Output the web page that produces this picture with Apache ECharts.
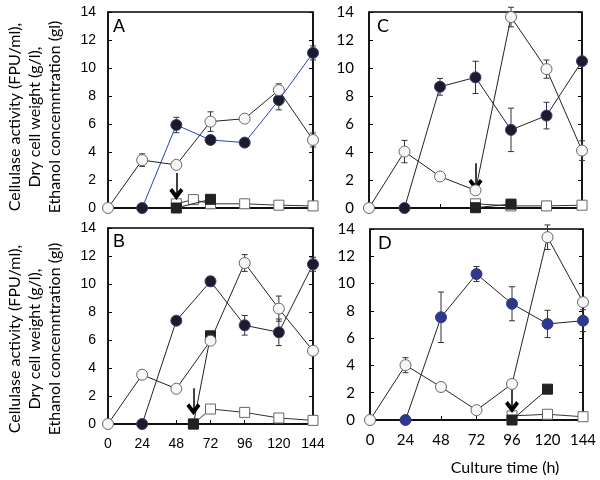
<!DOCTYPE html>
<html><head><meta charset="utf-8">
<script src="https://cdn.jsdelivr.net/npm/echarts@6/dist/echarts.min.js"></script>
<style>html,body{margin:0;padding:0;background:#fff}#c{width:600px;height:480px}</style>
</head><body><div id="c"></div>
<script>
const hours = [0, 24, 48, 72, 96, 120, 144];
const yTicks = [0, 2, 4, 6, 8, 10, 12, 14];
const panelLabels = ['A', 'B', 'C', 'D'];

// Panel A
const A_open = [0, 3.42, 3.08, 6.17, 6.38, 8.42, 4.86];
const A_openErr = [null, 0.45, null, 0.7, null, 0.45, 0.5];
const A_filled = [null, 0, 5.93, 4.86, 4.67, 7.71, 11.08];
const A_filledErr = [null, null, 0.55, null, null, 0.7, 0.5];
const A_sqOpenT = [48, 60, 72, 96, 120, 144];
const A_sqOpen = [0.3, 0.6, 0.3, 0.3, 0.2, 0.15];
const A_sqFilledT = [48, 72];
const A_sqFilled = [0, 0.62];
const A_arrow = [48, 2.5, 1.0];

// Panel B
const B_open = [0, 3.52, 2.52, 5.95, 11.5, 8.24, 5.23];
const B_openErr = [null, null, null, 0.2, 0.6, 0.9, null];
const B_filled = [null, 0, 7.38, 10.19, 7.05, 6.55, 11.41];
const B_filledErr = [null, null, null, 0.35, 0.7, 0.95, 0.5];
const B_sqOpenT = [60, 72, 96, 120, 144];
const B_sqOpen = [0, 1.07, 0.83, 0.43, 0.26];
const B_sqFilledT = [60, 72];
const B_sqFilled = [0, 6.3];
const B_arrow = [60, 2.55, 1.05];

// Panel C
const C_open = [0, 4.03, 2.25, 1.26, 13.64, 9.92, 4.1];
const C_openErr = [null, 0.8, null, null, 0.7, 0.65, 0.7];
const C_filled = [null, 0, 8.66, 9.33, 5.58, 6.6, 10.49];
const C_filledErr = [null, null, 0.6, 1.15, 1.55, 0.95, null];
const C_sqOpenT = [72, 96, 120, 144];
const C_sqOpen = [0.3, 0.15, 0.15, 0.2];
const C_sqFilledT = [72, 96];
const C_sqFilled = [0.02, 0.28];
const C_arrow = [72, 3.2, 1.65];

// Panel D
const D_open = [0, 4.02, 2.42, 0.72, 2.64, 13.4, 8.64];
const D_openErr = [null, 0.55, null, null, null, 0.9, null];
const D_filled = [null, 0, 7.53, 10.7, 8.52, 7.04, 7.28];
const D_filledErr = [null, null, 1.85, 0.55, 1.25, 1.0, 0.8];
const D_sqOpenT = [96, 120, 144];
const D_sqOpen = [0.3, 0.42, 0.24];
const D_sqFilledT = [96, 120];
const D_sqFilled = [0, 2.26];
const D_arrow = [96, 2.7, 0.95];

const panels = [
  {open: A_open, openErr: A_openErr, filled: A_filled, filledErr: A_filledErr, sqOT: A_sqOpenT, sqO: A_sqOpen, sqFT: A_sqFilledT, sqF: A_sqFilled, arrow: A_arrow,
   grid: {left: 108, top: 12, width: 205, height: 196}, font: 'Liberation Sans', fs: 14, showX: false, fillColor: '#1b1b2b', filledLine: '#2244bb'},
  {open: B_open, openErr: B_openErr, filled: B_filled, filledErr: B_filledErr, sqOT: B_sqOpenT, sqO: B_sqOpen, sqFT: B_sqFilledT, sqF: B_sqFilled, arrow: B_arrow,
   grid: {left: 108, top: 228, width: 205, height: 196}, font: 'Liberation Sans', fs: 14, showX: true, fillColor: '#1b1b2b', filledLine: '#222'},
  {open: C_open, openErr: C_openErr, filled: C_filled, filledErr: C_filledErr, sqOT: C_sqOpenT, sqO: C_sqOpen, sqFT: C_sqFilledT, sqF: C_sqFilled, arrow: C_arrow,
   grid: {left: 369, top: 12, width: 213, height: 196}, font: 'Lato', fs: 15, showX: false, fillColor: '#1b1b2b', filledLine: '#222'},
  {open: D_open, openErr: D_openErr, filled: D_filled, filledErr: D_filledErr, sqOT: D_sqOpenT, sqO: D_sqOpen, sqFT: D_sqFilledT, sqF: D_sqFilled, arrow: D_arrow,
   grid: {left: 370, top: 229, width: 213, height: 191}, font: 'Lato', fs: 15, showX: true, fillColor: '#2e3892', filledLine: '#222'}
];

const grids = [], xAxes = [], yAxes = [], series = [], graphics = [];

function pairs(ts, vs) { const r = []; for (let i = 0; i < ts.length; i++) if (vs[i] !== null) r.push([ts[i], vs[i]]); return r; }
function errs(vs, es) { const r = []; for (let i = 0; i < hours.length; i++) if (es[i] !== null && vs[i] !== null) r.push([hours[i], vs[i] - es[i], vs[i] + es[i]]); return r; }

const errRender = function (params, api) {
  const x = api.value(0);
  const p1 = api.coord([x, api.value(1)]);
  const p2 = api.coord([x, api.value(2)]);
  const st = {stroke: '#333', lineWidth: 1};
  return {type: 'group', children: [
    {type: 'line', shape: {x1: p1[0], y1: p1[1], x2: p2[0], y2: p2[1]}, style: st},
    {type: 'line', shape: {x1: p1[0] - 3, y1: p1[1], x2: p1[0] + 3, y2: p1[1]}, style: st},
    {type: 'line', shape: {x1: p2[0] - 3, y1: p2[1], x2: p2[0] + 3, y2: p2[1]}, style: st}
  ]};
};

panels.forEach((p, i) => {
  grids.push(Object.assign({show: true, borderColor: '#000', borderWidth: 1.3}, p.grid));
  xAxes.push({type: 'value', gridIndex: i, min: 0, max: 144, interval: 24,
    axisLine: {onZero: false, lineStyle: {color: '#000', width: 1.5}},
    axisTick: {inside: true, length: 4, lineStyle: {color: '#000'}},
    axisLabel: {show: p.showX, color: '#000', fontSize: p.fs, fontFamily: p.font, margin: 13, showMinLabel: true, showMaxLabel: true},
    splitLine: {show: false}});
  yAxes.push({type: 'value', gridIndex: i, min: 0, max: 14, interval: 2,
    axisLine: {show: true, lineStyle: {color: '#000', width: 1.5}},
    axisTick: {show: true, inside: true, length: 4, lineStyle: {color: '#000'}},
    axisLabel: {color: '#000', fontSize: p.fs, fontFamily: p.font, margin: i < 2 ? 12 : 15,
      formatter: v => yTicks.indexOf(v) >= 0 ? String(v) : ''},
    splitLine: {show: false}});
  yAxes.push({type: 'value', gridIndex: i, position: 'right', min: 0, max: 14, interval: 2,
    axisLine: {show: true, lineStyle: {color: '#000', width: 1.5}},
    axisTick: {show: true, inside: true, length: 4, lineStyle: {color: '#000'}},
    axisLabel: {show: false}, splitLine: {show: false}});
  const xi = i, yi = 2 * i;
  const base = {xAxisIndex: xi, yAxisIndex: yi, clip: false, animation: false};
  series.push(Object.assign({type: 'line', data: pairs(p.sqOT, p.sqO), symbol: 'rect', symbolSize: 10,
    lineStyle: {color: '#333', width: 1}, itemStyle: {color: '#fff', borderColor: '#666', borderWidth: 1}, z: 3}, base));
  series.push(Object.assign({type: 'line', data: pairs(p.sqFT, p.sqF), symbol: 'rect', symbolSize: 10,
    lineStyle: {color: '#222', width: 1}, itemStyle: {color: '#222', borderColor: '#222', borderWidth: 1}, z: 4}, base));
  series.push(Object.assign({type: 'custom', renderItem: errRender, data: errs(p.filled, p.filledErr), z: 2}, base));
  series.push(Object.assign({type: 'custom', renderItem: errRender, data: errs(p.open, p.openErr), z: 2}, base));
  series.push(Object.assign({type: 'line', data: pairs(hours, p.filled), symbol: 'circle', symbolSize: 11,
    lineStyle: {color: p.filledLine, width: 1}, itemStyle: {color: p.fillColor, borderColor: '#3a3a70', borderWidth: 1}, z: 5}, base));
  series.push(Object.assign({type: 'line', data: pairs(hours, p.open), symbol: 'circle', symbolSize: 11,
    lineStyle: {color: '#222', width: 1}, itemStyle: {color: '#f7f7f7', borderColor: '#666', borderWidth: 1}, z: 6,
    markLine: {silent: true, animation: false, symbol: ['none', 'path://M5,0 L10,7 L8,9 L5,5 L2,9 L0,7 Z'], symbolSize: [14, 12],
      lineStyle: {color: '#000', width: 1.5, type: 'solid'}, label: {show: false},
      data: [[{coord: [p.arrow[0], p.arrow[1]]}, {coord: [p.arrow[0], p.arrow[2]]}]]}}, base));
});

graphics.push({type: 'text', left: 113, top: 18, style: {text: 'A', font: '18px "Liberation Sans"', fill: '#000'}});
graphics.push({type: 'text', left: 113, top: 233, style: {text: 'B', font: '18px "Liberation Sans"', fill: '#000'}});
graphics.push({type: 'text', left: 377, top: 17, style: {text: 'C', font: '18px Lato', fill: '#000'}});
graphics.push({type: 'text', left: 378, top: 234, style: {text: 'D', font: '18px Lato', fill: '#000'}});
const yTitle = 'Cellulase activity (FPU/ml),\nDry cell weight (g/l),\nEthanol concemntration (gl)';
[117, 339].forEach(cy => {
  graphics.push({type: 'text', x: 35, y: cy, rotation: Math.PI / 2,
    style: {text: yTitle, font: '16px Lato', fill: '#000', align: 'center', verticalAlign: 'middle', lineHeight: 20}});
});
graphics.push({type: 'text', x: 505, y: 468, style: {text: 'Culture time (h)', font: '16px Lato', fill: '#000', align: 'center', verticalAlign: 'middle'}});

const chart = echarts.init(document.getElementById('c'), null, {renderer: 'canvas'});
chart.setOption({animation: false, grid: grids, xAxis: xAxes, yAxis: yAxes, series: series, graphic: graphics});
</script></body></html>
